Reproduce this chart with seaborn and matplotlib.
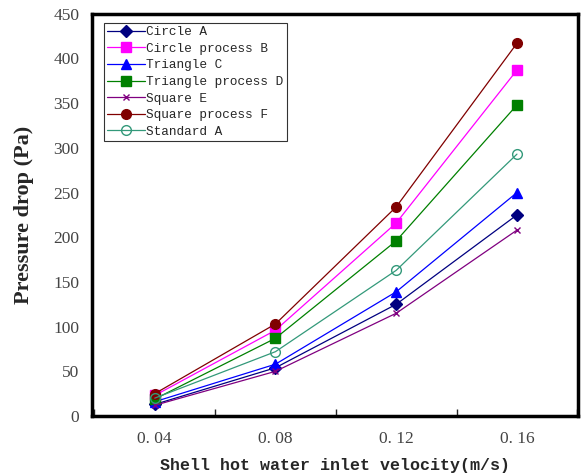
import numpy as np
import pandas as pd
import matplotlib
matplotlib.use("Agg")
import matplotlib.pyplot as plt
import seaborn as sns
from matplotlib.ticker import MultipleLocator

velocity = [0.04, 0.08, 0.12, 0.16]
velocity_labels = ["0. 04", "0. 08", "0. 12", "0. 16"]

circle_a = [13, 54, 125, 225]
circle_b = [23, 96, 216, 387]
triangle_c = [16, 58, 139, 250]
triangle_d = [19, 87, 196, 348]
square_e = [12, 50, 115, 208]
square_f = [25, 103, 234, 417]
standard_a = [20, 72, 163, 293]

series = [
    ("Circle A", circle_a, "#000080", "D", "#000080", 6),
    ("Circle process B", circle_b, "#FF00FF", "s", "#FF00FF", 6.5),
    ("Triangle C", triangle_c, "#0000FF", "^", "#0000FF", 7),
    ("Triangle process D", triangle_d, "#008000", "s", "#008000", 6.5),
    ("Square E", square_e, "#800080", "x", "#800080", 4.5),
    ("Square process F", square_f, "#800000", "o", "#800000", 7),
    ("Standard A", standard_a, "#33997A", "o", "none", 7),
]

sns.set_style("white")
plt.rcParams['font.family'] = ['Liberation Serif', 'DejaVu Serif']

fig = plt.figure(figsize=(5.82, 4.76), dpi=100)
ax = fig.add_axes([0.158, 0.126, 0.835, 0.845])

for name, vals, col, mk, face, ms in series:
    df = pd.DataFrame({"v": velocity, "p": vals})
    sns.lineplot(data=df, x="v", y="p", ax=ax, color=col, lw=0.9,
                 marker=mk, markersize=ms,
                 markerfacecolor=face, markeredgecolor=col,
                 markeredgewidth=1.0, label=name)

ax.set_xlim(0.0192, 0.1802)
ax.set_ylim(0, 450)
ax.set_xticks(velocity)
ax.set_xticklabels(velocity_labels)
ax.xaxis.set_minor_locator(MultipleLocator(0.02))
ax.yaxis.set_major_locator(MultipleLocator(50))
ax.tick_params(axis="both", which="both", direction="in", labelsize=12.5,
               labelcolor="#444444", width=1)
ax.tick_params(axis="both", which="major", length=5)
ax.tick_params(axis="x", which="minor", length=5, bottom=True)
ax.tick_params(axis="x", pad=11)
ax.tick_params(axis="y", pad=9)
for sp in ax.spines.values():
    sp.set_linewidth(2.5)
    sp.set_color("black")

ax.set_xlabel("Shell hot water inlet velocity(m/s)", fontsize=12,
              fontfamily="Liberation Mono", fontweight="bold", labelpad=8)
ax.set_ylabel("Pressure drop (Pa)", fontsize=16, fontweight="bold", labelpad=14)

leg = ax.legend(loc="upper left", bbox_to_anchor=(0.024, 0.977),
                prop={"family": "Liberation Mono", "size": 9.2},
                frameon=True, fancybox=False, edgecolor="black",
                borderpad=0.25, labelspacing=0.36, handlelength=3.0,
                handletextpad=0.1, borderaxespad=0)
leg.get_frame().set_linewidth(0.8)

fig.savefig("out.png", dpi=100)
